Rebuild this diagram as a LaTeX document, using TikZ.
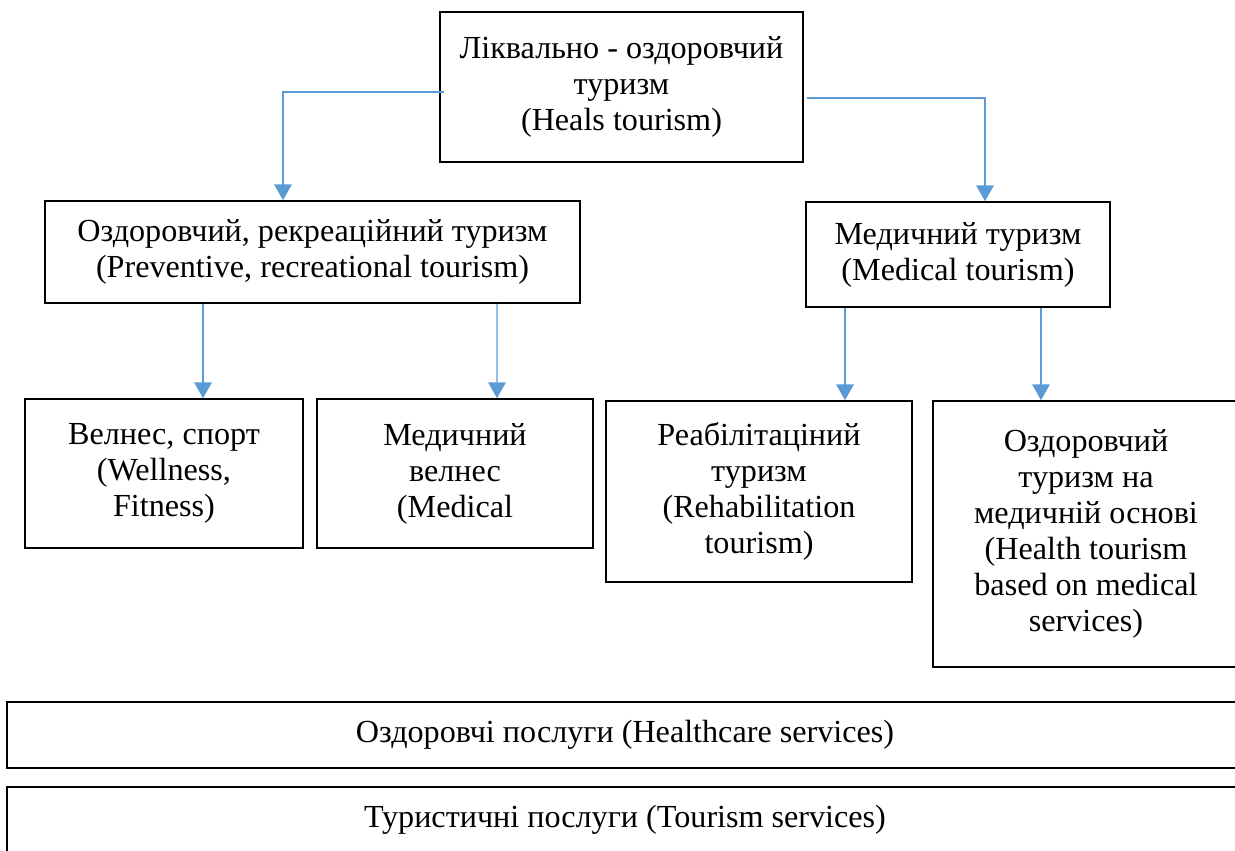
\documentclass[tikz,border=0pt]{standalone}
\usepackage{fontspec}
\setmainfont{Liberation Serif}
\usetikzlibrary{calc,positioning,arrows.meta}

\definecolor{linkblue}{RGB}{91,155,213}

\begin{document}
\begin{tikzpicture}[
      x=0.02cm, y=-0.02cm,
      box/.style={draw, rectangle, line width=0.9pt, align=center, inner sep=0pt,
         font=\rmfamily\fontsize{18.3}{20.5}\selectfont},
      link/.style={draw, color=linkblue, line width=0.7pt,
         -{Triangle[width=10pt,length=9pt]}}
   ]
      \useasboundingbox (0,0) rectangle (1235,851);
      \clip (0,0) rectangle (1235,851);

      \node[box, minimum width=363*0.02cm, minimum height=150*0.02cm] (H) at (621.5,87)
         {Ліквально - оздоровчий\\туризм\\(Heals tourism)};
      \node[box, minimum width=535*0.02cm, minimum height=102*0.02cm] (P) at (312.5,252)
         {Оздоровчий, рекреаційний туризм\\(Preventive, recreational tourism)};
      \node[box, minimum width=304*0.02cm, minimum height=105*0.02cm] (M) at (958,254.5)
         {Медичний туризм\\(Medical tourism)};

      \node[box, minimum width=278*0.02cm, minimum height=149*0.02cm] (W) at (164,473.5)
         {Велнес, спорт\\(Wellness,\\Fitness)};
      \node[box, minimum width=276*0.02cm, minimum height=149*0.02cm] (MW) at (455,473.5)
         {Медичний\\велнес\\(Medical};
      \node[box, minimum width=306*0.02cm, minimum height=181*0.02cm] (R) at (759,491.5)
         {Реабілітаціний\\туризм\\(Rehabilitation\\tourism)};
      \node[box, minimum width=306*0.02cm, minimum height=266*0.02cm] (HT) at (1086,534)
         {Оздоровчий\\туризм на\\медичній основі\\(Health tourism\\based on medical\\services)};

      \node[box, minimum width=1236*0.02cm, minimum height=66*0.02cm] (HS) at (625,735)
         {Оздоровчі послуги (Healthcare services)};
      \node[box, minimum width=1236*0.02cm, minimum height=66*0.02cm, text depth=0pt] (TS) at (625,820)
         {\raisebox{4pt}{Туристичні послуги (Tourism services)}};

      % connectors
      \path[link] ($(H.west)+(5,5)$) -| ($(P.north)+(-29.5,0)$);
      \path[link] ($(H.east)+(3,11)$) -| ($(M.north)+(27,0)$);
      \path[link] ($(P.south)+(-109.5,0)$) -- ($(W.north)+(39,0)$);
      \path[link] ($(P.south)+(184.5,0)$) -- ($(MW.north)+(42,0)$);
      \path[link] ($(M.south)+(-113,0)$) -- ($(R.north)+(86,0)$);
      \path[link] ($(M.south)+(83,0)$) -- ($(HT.north)+(-45,0)$);
   \end{tikzpicture}
\end{document}
